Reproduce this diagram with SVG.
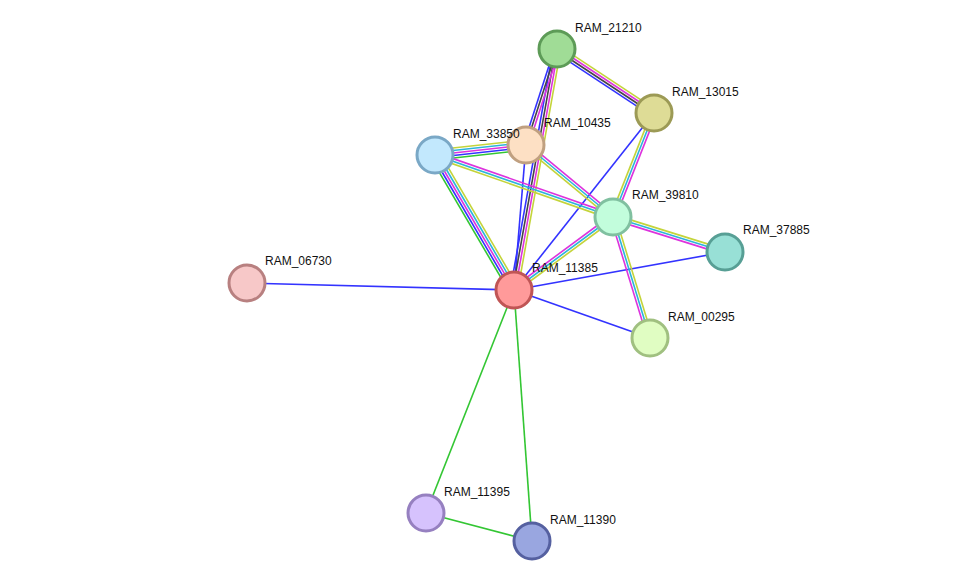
<svg xmlns="http://www.w3.org/2000/svg" width="976" height="587" viewBox="0 0 976 587">
<style>
line{stroke-width:1.6;fill:none}
.y{stroke:#c4d43a}.c{stroke:#2cb4da}.m{stroke:#dd33dd}.b{stroke:#3333ff}.k{stroke:#444444}.g{stroke:#33c633}
.n circle{stroke-width:3}
text{font-family:"Liberation Sans",Arial,sans-serif;font-size:12px;fill:#111}
</style>
<rect width="976" height="587" fill="#ffffff"/>
<g id="edges">
<!-- single edges -->
<line class="b" x1="514" y1="290" x2="247" y2="283"/>
<line class="b" x1="514" y1="290" x2="725" y2="252"/>
<line class="b" x1="514" y1="290" x2="650" y2="338"/>
<line class="b" x1="514" y1="290" x2="654" y2="113"/>
<line class="b" x1="514" y1="290" x2="526" y2="145"/>
<line class="g" x1="514" y1="290" x2="426" y2="513"/>
<line class="g" x1="514" y1="290" x2="532" y2="541"/>
<line class="g" x1="426" y1="513" x2="532" y2="541"/>
<!-- 21210-13015 -->
<g transform="translate(2.07,-3.13)"><line class="y" x1="557" y1="49" x2="654" y2="113"/></g>
<g transform="translate(0.69,-1.04)"><line class="m" x1="557" y1="49" x2="654" y2="113"/></g>
<g transform="translate(-0.69,1.04)"><line class="k" x1="557" y1="49" x2="654" y2="113"/></g>
<g transform="translate(-2.07,3.13)"><line class="b" x1="557" y1="49" x2="654" y2="113"/></g>
<!-- 21210-11385 -->
<g transform="translate(-3.69,-0.66)"><line class="b" x1="557" y1="49" x2="514" y2="290"/></g>
<g transform="translate(-1.23,-0.22)"><line class="k" x1="557" y1="49" x2="514" y2="290"/></g>
<g transform="translate(1.23,0.22)"><line class="m" x1="557" y1="49" x2="514" y2="290"/></g>
<g transform="translate(3.69,0.66)"><line class="y" x1="557" y1="49" x2="514" y2="290"/></g>
<!-- 21210-10435 -->
<g transform="translate(-2.38,-0.78)"><line class="b" x1="557" y1="49" x2="526" y2="145"/></g>
<line class="k" x1="557" y1="49" x2="526" y2="145"/>
<g transform="translate(2.38,0.78)"><line class="m" x1="557" y1="49" x2="526" y2="145"/></g>
<!-- 33850-10435 -->
<g transform="translate(-0.6,-4.96)"><line class="y" x1="435" y1="155" x2="526" y2="145"/></g>
<g transform="translate(-0.3,-2.48)"><line class="c" x1="435" y1="155" x2="526" y2="145"/></g>
<line class="m" x1="435" y1="155" x2="526" y2="145"/>
<g transform="translate(0.3,2.48)"><line class="b" x1="435" y1="155" x2="526" y2="145"/></g>
<g transform="translate(0.6,4.96)"><line class="g" x1="435" y1="155" x2="526" y2="145"/></g>
<!-- 33850-11385 -->
<g transform="translate(-4.32,2.53)"><line class="g" x1="435" y1="155" x2="514" y2="290"/></g>
<g transform="translate(-2.16,1.26)"><line class="b" x1="435" y1="155" x2="514" y2="290"/></g>
<line class="m" x1="435" y1="155" x2="514" y2="290"/>
<g transform="translate(2.16,-1.26)"><line class="c" x1="435" y1="155" x2="514" y2="290"/></g>
<g transform="translate(4.32,-2.53)"><line class="y" x1="435" y1="155" x2="514" y2="290"/></g>
<!-- 33850-39810 -->
<g transform="translate(0.81,-2.37)"><line class="m" x1="435" y1="155" x2="613" y2="217"/></g>
<line class="c" x1="435" y1="155" x2="613" y2="217"/>
<g transform="translate(-0.81,2.37)"><line class="y" x1="435" y1="155" x2="613" y2="217"/></g>
<!-- 10435-39810 -->
<g transform="translate(1.58,-1.94)"><line class="m" x1="526" y1="145" x2="613" y2="217"/></g>
<line class="c" x1="526" y1="145" x2="613" y2="217"/>
<g transform="translate(-1.58,1.94)"><line class="y" x1="526" y1="145" x2="613" y2="217"/></g>
<!-- 13015-39810 -->
<g transform="translate(-2.33,-0.91)"><line class="y" x1="654" y1="113" x2="613" y2="217"/></g>
<line class="c" x1="654" y1="113" x2="613" y2="217"/>
<g transform="translate(2.33,0.91)"><line class="m" x1="654" y1="113" x2="613" y2="217"/></g>
<!-- 39810-11385 -->
<g transform="translate(-1.49,-2.01)"><line class="m" x1="613" y1="217" x2="514" y2="290"/></g>
<line class="c" x1="613" y1="217" x2="514" y2="290"/>
<g transform="translate(1.49,2.01)"><line class="y" x1="613" y1="217" x2="514" y2="290"/></g>
<!-- 39810-37885 -->
<g transform="translate(0.75,-2.38)"><line class="y" x1="613" y1="217" x2="725" y2="252"/></g>
<line class="c" x1="613" y1="217" x2="725" y2="252"/>
<g transform="translate(-0.75,2.38)"><line class="m" x1="613" y1="217" x2="725" y2="252"/></g>
<!-- 39810-00295 -->
<g transform="translate(-2.40,0.71)"><line class="m" x1="613" y1="217" x2="650" y2="338"/></g>
<line class="c" x1="613" y1="217" x2="650" y2="338"/>
<g transform="translate(2.40,-0.71)"><line class="y" x1="613" y1="217" x2="650" y2="338"/></g>
</g>
<g id="RAM_21210" class="n"><circle cx="557" cy="49" r="18" fill="#a0dc96" stroke="#5d9b57"/><text x="575" y="32">RAM_21210</text></g>
<g id="RAM_13015" class="n"><circle cx="654" cy="113" r="18" fill="#dedc96" stroke="#9c9a55"/><text x="672" y="96">RAM_13015</text></g>
<g id="RAM_10435" class="n"><circle cx="526" cy="145" r="18" fill="#fde0c4" stroke="#c0a080"/><text x="544" y="127">RAM_10435</text></g>
<g id="RAM_33850" class="n"><circle cx="435" cy="155" r="18" fill="#c2e8fd" stroke="#7aa8c6"/><text x="453" y="138">RAM_33850</text></g>
<g id="RAM_39810" class="n"><circle cx="613" cy="217" r="18" fill="#c2fddc" stroke="#80c0a0"/><text x="632" y="199">RAM_39810</text></g>
<g id="RAM_37885" class="n"><circle cx="725" cy="252" r="18" fill="#98e0d6" stroke="#579f95"/><text x="743" y="234">RAM_37885</text></g>
<g id="RAM_06730" class="n"><circle cx="247" cy="283" r="18" fill="#f7c8c8" stroke="#b88080"/><text x="265" y="265">RAM_06730</text></g>
<g id="RAM_11385" class="n"><circle cx="514" cy="290" r="18" fill="#ff9a9a" stroke="#c05555"/><text x="532" y="272">RAM_11385</text></g>
<g id="RAM_00295" class="n"><circle cx="650" cy="338" r="18" fill="#e0fdc2" stroke="#a0c080"/><text x="668" y="321">RAM_00295</text></g>
<g id="RAM_11395" class="n"><circle cx="426" cy="513" r="18" fill="#d6c2fd" stroke="#9680c0"/><text x="444" y="496">RAM_11395</text></g>
<g id="RAM_11390" class="n"><circle cx="532" cy="541" r="18" fill="#99a6e0" stroke="#5560a0"/><text x="550" y="524">RAM_11390</text></g>
</svg>
